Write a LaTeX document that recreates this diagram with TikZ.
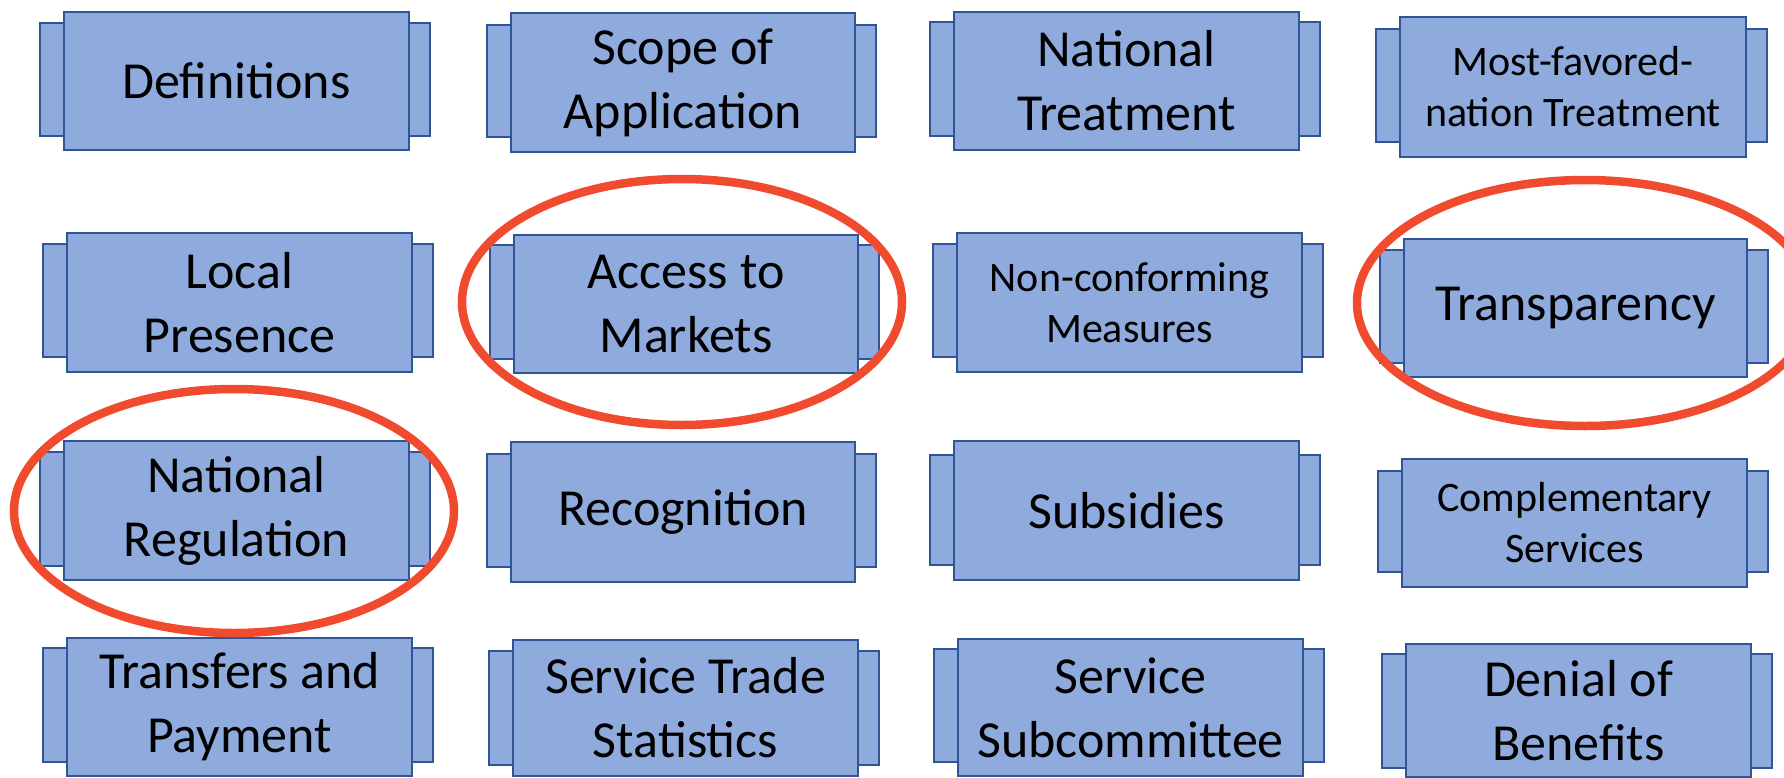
\documentclass[tikz,border=0pt]{standalone}
\usepackage{fontspec}
\setmainfont{Carlito}
\definecolor{boxfill}{HTML}{8FAADC}
\definecolor{boxline}{HTML}{2F5597}
\definecolor{inkred}{HTML}{F04B2F}
\tikzset{
  tabbox/.style={fill=boxfill, draw=boxline, line width=2.8pt},
  mainbox/.style={fill=boxfill, draw=boxline, line width=2.8pt, rectangle, inner sep=0pt, align=center, text=black},
  bigtext/.style={font=\fontsize{52}{64}\selectfont},
  smalltext/.style={font=\fontsize{42}{51}\selectfont},
  mark ring/.style={draw=inkred, line width=8.5pt},
}
% #1 name, #2 x1, #3 y1, #4 x2, #5 y2, #6 tab y1, #7 tab y2, #8 text style, #9 text
\newcommand\compbox[9]{%
  \draw[tabbox] ({#2-24},#6) rectangle (#2,#7);
  \draw[tabbox] (#4,#6) rectangle ({#4+21},#7);
  \pgfmathsetmacro\cbw{#4-#2}%
  \pgfmathsetmacro\cbh{#5-#3}%
  \node[mainbox,#8,minimum width=\cbw pt,minimum height=\cbh pt] (#1) at ({(#2+#4)/2},{(#3+#5)/2}) {#9};
}
\begin{document}
\begin{tikzpicture}[x=1pt,y=-1pt]
\useasboundingbox (0,0) rectangle (1784,777);
% row 1
\compbox{def}{64}{12}{409}{150}{23}{136}{bigtext}{Definitions}
\compbox{scope}{511}{13}{855}{152}{25}{137}{bigtext}{Scope of\\Application}
\compbox{nt}{954}{12}{1299}{150}{22}{136}{bigtext}{National\\Treatment}
\compbox{mfn}{1400}{17}{1746}{157}{29}{142}{smalltext}{Most-favored-\\nation Treatment}
% row 2
\compbox{local}{67}{233}{412}{372}{244}{357}{bigtext}{Local\\Presence}
\compbox{access}{514}{235}{858}{373}{245}{359}{bigtext}{Access to\\Markets}
\compbox{nonconf}{957}{233}{1302}{372}{244}{357}{smalltext}{Non-conforming\\Measures}
\compbox{transp}{1404}{239}{1747}{377}{250}{363}{bigtext}{Transparency}
% row 3
\compbox{natreg}{64}{441}{409}{580}{452}{566}{bigtext}{National\\Regulation}
\compbox{recog}{511}{442}{855}{582}{454}{567}{bigtext}{Recognition}
\compbox{subs}{954}{441}{1299}{580}{455}{565}{bigtext}{Subsidies}
\compbox{compl}{1402}{459}{1747}{587}{471}{572}{smalltext}{Complementary\\Services}
% row 4
\compbox{transf}{67}{638}{412}{776}{648}{762}{bigtext}{Transfers and\\Payment}
\compbox{stats}{513}{640}{858}{776}{651}{765}{bigtext}{Service Trade\\Statistics}
\compbox{subcom}{958}{639}{1303}{776}{649}{762}{bigtext}{Service\\Subcommittee}
\compbox{denial}{1406}{644}{1751}{777}{654}{768}{bigtext}{Denial of\\Benefits}
% red rings
\draw[mark ring] (682,302) ellipse [x radius=220pt, y radius=123pt];
\draw[mark ring] (234,511) ellipse [x radius=220pt, y radius=122pt];
\draw[mark ring] (1585,303) ellipse [x radius=228pt, y radius=123pt];
\end{tikzpicture}
\end{document}
